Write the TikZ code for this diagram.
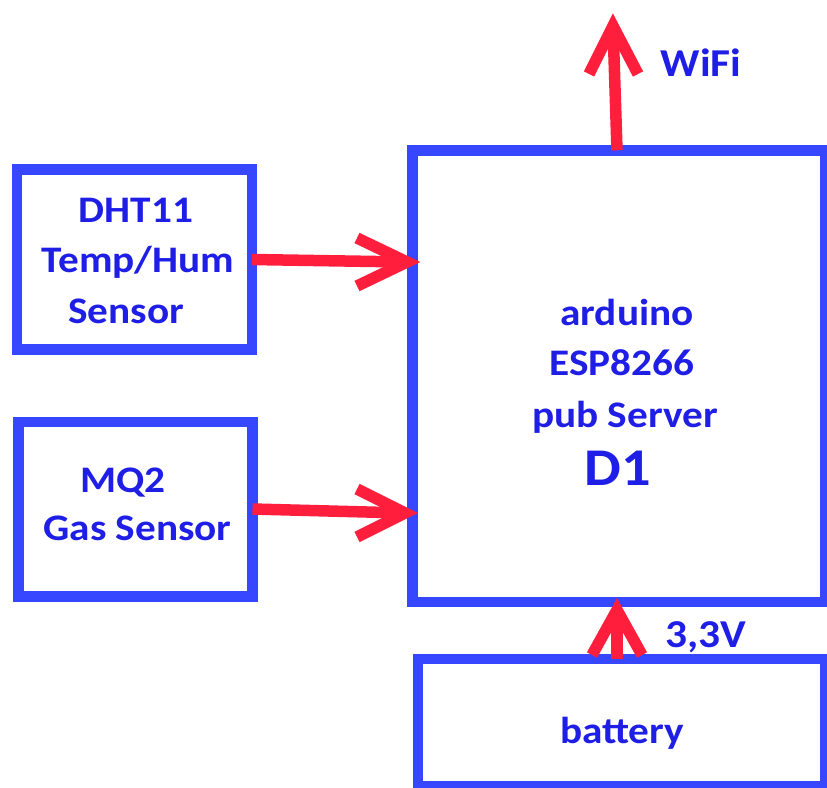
\documentclass[tikz,border=0pt]{standalone}
\usepackage{fontspec}
\setmainfont{Carlito}[FakeStretch=1.1]
\usetikzlibrary{calc}
\definecolor{boxblue}{RGB}{55,70,255}
\definecolor{txtblue}{RGB}{30,30,230}
\definecolor{arrred}{RGB}{255,30,60}
\begin{document}
\begin{tikzpicture}[x=1pt,y=-1pt,
  blk/.style={draw=boxblue,line width=10.5pt,rectangle,inner sep=0pt,outer sep=0pt},
  lbl/.style={text=txtblue,font=\bfseries\fontsize{37.5}{51}\selectfont,inner sep=0pt,anchor=base},
  redline/.style={draw=arrred,line width=11.5pt}]
\useasboundingbox (0,0) rectangle (827,787);
% boxes
\node[blk,minimum width=235pt,minimum height=180pt] (dht) at (134.5,259.5) {};
\node[blk,minimum width=234pt,minimum height=174.5pt] (mq) at (135.5,509) {};
\node[blk,minimum width=412.5pt,minimum height=451.5pt] (main) at (618.75,376) {};
\node[blk,minimum width=407pt,minimum height=127pt] (bat) at (621.5,722.5) {};
% texts
\node[lbl] (t1) at (136,222) {DHT11};
\node[lbl] (t2) at (138,272) {Temp/Hum};
\node[lbl] (t3) at (126,323) {Sensor};
\node[lbl] (t4) at (123,492) {MQ2};
\node[lbl] (t5) at (137.5,540) {Gas Sensor};
\node[lbl] (t6) at (627,325) {arduino};
\node[lbl] (t7) at (622,375) {ESP8266};
\node[lbl] (t8) at (625,427) {pub Server};
\node[lbl,font=\bfseries\fontsize{53}{60}\selectfont] (t9) at (618,485) {D1};
\node[lbl,font=\bfseries\fontsize{39.5}{48}\selectfont] (wifi) at (701,76) {WiFi};
\node[lbl,font=\bfseries\fontsize{39.5}{48}\selectfont] (volt) at (706,647) {3,3V};
\node[lbl] (t10) at (622,743) {battery};
% arrows
\coordinate (dhtTip) at (407,262);
\coordinate (mqTip) at (405,513);
\coordinate (wifiTip) at (613,26);
\coordinate (batTip) at (617,610);
\draw[redline] (dht.east) -- (dhtTip);
\draw[redline] ($(dhtTip)+(-50,-24)$) -- (dhtTip) -- ($(dhtTip)+(-50,24)$);
\draw[redline] (mq.east) -- (mqTip);
\draw[redline] ($(mqTip)+(-48,-24)$) -- (mqTip) -- ($(mqTip)+(-48,24)$);
\draw[redline] ($(main.north)+(-1.75,0)$) -- (wifiTip);
\draw[redline] ($(wifiTip)+(-24,48)$) -- (wifiTip) -- ($(wifiTip)+(25,48)$);
\draw[redline] ($(bat.north)+(-4.5,0)$) -- (batTip);
\draw[redline] ($(batTip)+(-25,45)$) -- (batTip) -- ($(batTip)+(25,45)$);
\end{tikzpicture}
\end{document}
